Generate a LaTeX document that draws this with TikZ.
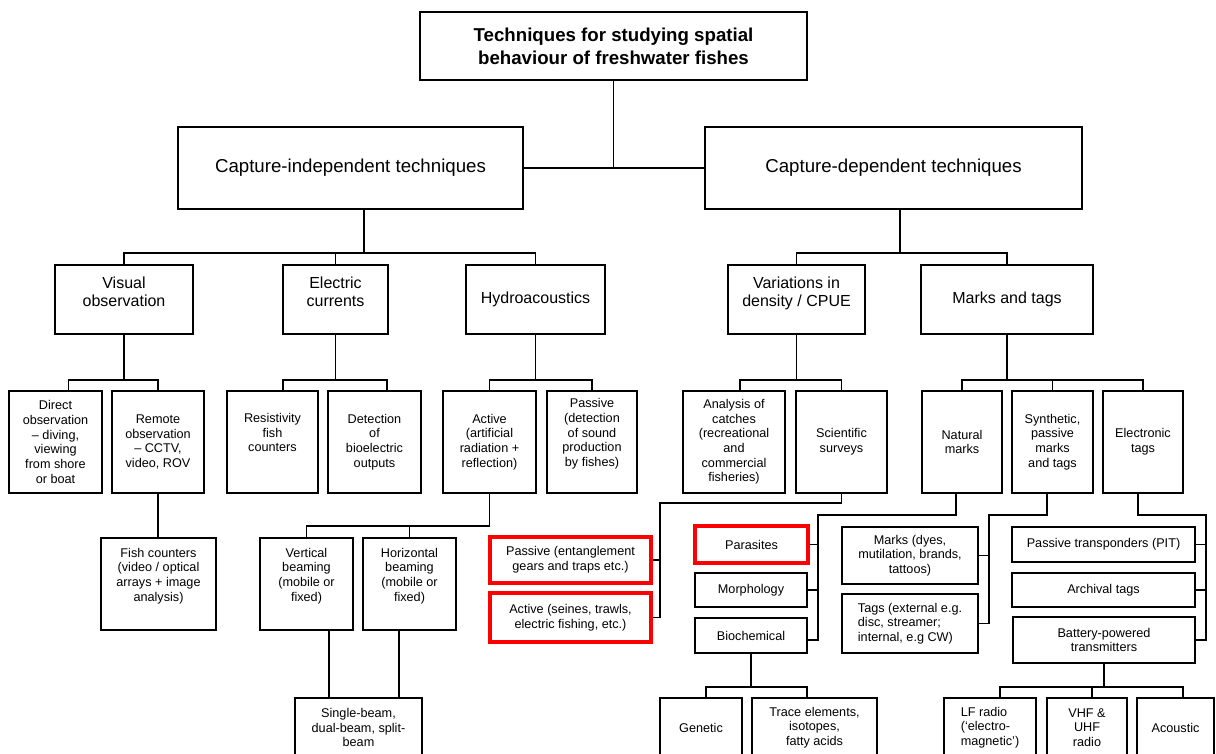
\documentclass[tikz,border=0pt]{standalone}
\usepackage{fontspec}
\setmainfont{Liberation Sans}
\usetikzlibrary{positioning}

\begin{document}
\begin{tikzpicture}[
    % one unit = one pixel of the scan
    x=0.75pt, y=-0.75pt,
    base/.style={rectangle, draw=black, line width=1.3pt, align=center, inner sep=1pt, font=\fontsize{9.5}{11}\selectfont},
    box/.style 2 args={base, minimum width=#1*0.75pt, minimum height=#2*0.75pt},
    topic/.style={font=\fontsize{12}{14}\selectfont},
    branch/.style={font=\fontsize{14}{17}\selectfont},
    headline/.style={font=\fontsize{14}{17}\selectfont\bfseries},
    marked/.style={draw=red, line width=2.6pt},
    link/.style={line width=1.1pt}
]
\useasboundingbox (0,0) rectangle (1216,753);
\clip (0,0) rectangle (1216,753);

%% ── Top levels ───────────────────────────────────────────────
\node (title) [box={387}{68}, headline] at (613.5,46) {Techniques for studying spatial\\ behaviour of freshwater fishes};
\node (capind) [box={345}{82}, branch] at (350.5,168) {Capture-independent techniques};
\node (capdep) [box={377}{82}, branch] at (893.5,168) {Capture-dependent techniques};

\node (visual) [box={138}{69}, topic] at (124,299.5) {Visual\\ observation\\[-2.25pt]};
\node (electric) [box={105}{69}, topic] at (335.5,299.5) {Electric\\ currents\\[-2.25pt]};
\node (hydro) [box={139}{69}, topic] at (535.5,299.5) {Hydroacoustics};
\node (variations) [box={137}{69}, topic] at (796.5,299.5) {Variations in\\ density / CPUE\\[-2.25pt]};
\node (markstags) [box={172}{69}, topic] at (1007,299.5) {Marks and tags};

%% ── Third level ──────────────────────────────────────────────
\node (direct) [box={93}{102}] at (55.5,442) {Direct\\ observation\\ -- diving,\\ viewing\\ from shore\\ or boat};
\node (remote) [box={92}{102}] at (158,442) {Remote\\ observation\\ -- CCTV,\\ video, ROV};
\node (resist) [box={91}{102}] at (272.5,442) {Resistivity\\ fish\\ counters\\[3pt]};
\node (detect) [box={93}{102}] at (374.5,442) {Detection\\ of\\ bioelectric\\ outputs};
\node (activeh) [box={93}{102}] at (489.5,442) {Active\\ (artificial\\ radiation +\\ reflection)};
\node (passiveh) [box={90}{102}] at (592,442) {Passive\\ (detection\\ of sound\\ production\\ by fishes)\\[3pt]};
\node (analysis) [box={102}{102}] at (734,442) {Analysis of\\ catches\\ (recreational\\ and\\ commercial\\ fisheries)};
\node (scient) [box={91}{102}] at (841.5,442) {Scientific\\ surveys};
\node (natural) [box={80}{102}] at (962,442) {Natural\\ marks};
\node (synth) [box={81}{102}] at (1052.5,442) {Synthetic,\\ passive\\ marks\\ and tags};
\node (electronic) [box={80}{102}] at (1143,442) {Electronic\\ tags};

%% ── Fourth level ─────────────────────────────────────────────
\node (fishcnt) [box={115}{92}] at (158.5,584) {Fish counters\\ (video / optical\\ arrays + image\\ analysis)\\[3pt]};
\node (vertb) [box={93}{92}] at (306.5,584) {Vertical\\ beaming\\ (mobile or\\ fixed)\\[3pt]};
\node (horizb) [box={93}{92}] at (409.5,584) {Horizontal\\ beaming\\ (mobile or\\ fixed)\\[3pt]};

\node (passgear) [box={161}{46}, marked] at (570.5,560) {Passive (entanglement\\ gears and traps etc.)};
\node (actgear) [box={161}{49}, marked] at (570.5,617.5) {Active (seines, trawls,\\ electric fishing, etc.)};

\node (parasites) [box={113}{37}, marked] at (751.5,544.5) {Parasites};
\node (morph) [box={112}{34}] at (751,590) {Morphology};
\node (biochem) [box={112}{35}] at (751,635.5) {Biochemical};

\node (marksdyes) [box={136}{57}] at (910,555.5) {Marks (dyes,\\ mutilation, brands,\\ tattoos)};
\node (tagsext) [box={136}{59}, align=left] at (910,623.5) {Tags (external e.g.\\ disc, streamer;\\ internal, e.g CW)};

\node (pit) [box={183}{35}] at (1103.5,544.5) {Passive transponders (PIT)};
\node (archival) [box={183}{34}] at (1103.5,590) {Archival tags};
\node (battery) [box={182}{46}] at (1104,640) {Battery-powered\\ transmitters};

%% ── Bottom row (cut by the page edge) ────────────────────────
\node (singleb) [box={127}{59}] at (358.5,727.5) {Single-beam,\\ dual-beam, split-\\ beam};
\node (genetic) [box={82}{59}] at (701,727.5) {Genetic};
\node (trace) [box={125}{59}] at (814.5,727.5) {Trace elements,\\ isotopes,\\ fatty acids};
\node (lfradio) [box={92}{59}, align=left] at (990,727.5) {LF radio\\ (`electro-\\ magnetic')};
\node (vhf) [box={80}{59}] at (1087,727.5) {VHF \&\\ UHF\\ radio};
\node (acoustic) [box={77}{59}] at (1175.5,727.5) {Acoustic};

%% ── Connectors ───────────────────────────────────────────────
\draw [link] (capind.east) -- (capdep.west);
\draw [link] (title.south) -- (title.south |- capind.east);

\coordinate (busci) at (364,253);
\draw [link] (capind.south -| busci) -- (busci);
\draw [link] (visual.north) |- (busci) -| (hydro.north);
\draw [link] (electric.north) -- (electric.north |- busci);

\coordinate (buscd) at (900,253);
\draw [link] (capdep.south -| buscd) -- (buscd);
\draw [link] (variations.north) |- (buscd) -| (markstags.north);

\coordinate (busvo) at (124,380);
\draw [link] (visual.south) -- (busvo);
\draw [link] ([xshift=9.75pt]direct.north) |- (busvo) -| (remote.north);

\coordinate (busec) at (335.5,380);
\draw [link] (electric.south) -- (busec);
\draw [link] ([xshift=7.9pt]resist.north) |- (busec) -| ([xshift=9.4pt]detect.north);

\coordinate (bushy) at (535.5,380);
\draw [link] (hydro.south) -- (bushy);
\draw [link] (activeh.north) |- (bushy) -| (passiveh.north);

\coordinate (busvd) at (796.5,380);
\draw [link] (variations.south) -- (busvd);
\draw [link] ([xshift=4.5pt]analysis.north) |- (busvd) -| (scient.north);

\coordinate (busmt) at (1007,380);
\draw [link] (markstags.south) -- (busmt);
\draw [link] (natural.north) |- (busmt) -| (electronic.north);
\draw [link] (synth.north) -- (synth.north |- busmt);

\draw [link] (remote.south) -- (remote.south |- fishcnt.north);

\coordinate (busac) at (489.5,526);
\draw [link] (activeh.south) -- (busac);
\draw [link] (vertb.north) |- (busac);
\draw [link] (horizb.north) -- (horizb.north |- busac);
\draw [link] ([xshift=16.9pt]vertb.south) coordinate (vb) -- (vb |- singleb.north);
\draw [link] ([xshift=-7.9pt]horizb.south) coordinate (hb) -- (hb |- singleb.north);

\coordinate (brsc) at (660,503);
\draw [link] (scient.south) |- (brsc) |- (actgear.east);
\draw [link] (passgear.east) -- (passgear.east -| brsc);

\coordinate (brnm) at (818,515);
\draw [link] ([xshift=-4.5pt]natural.south) |- (brnm) |- ([yshift=-3.4pt]biochem.east);
\draw [link] (parasites.east) -- (parasites.east -| brnm);
\draw [link] (morph.east) -- (morph.east -| brnm);

\coordinate (brsy) at (989,515);
\draw [link] ([xshift=-4pt]synth.south) |- (brsy) |- (tagsext.east);
\draw [link] (marksdyes.east) -- (marksdyes.east -| brsy);

\coordinate (brel) at (1206,515);
\draw [link] ([xshift=-3.75pt]electronic.south) |- (brel) |- (battery.east);
\draw [link] (pit.east) -- (pit.east -| brel);
\draw [link] (archival.east) -- (archival.east -| brel);

\coordinate (busbc) at (751,687);
\draw [link] (biochem.south) -- (busbc);
\draw [link] ([xshift=3.75pt]genetic.north) |- (busbc) -| ([xshift=-5.6pt]trace.north);

\coordinate (busbp) at (1104,687);
\draw [link] (battery.south) -- (busbp);
\draw [link] ([xshift=7.5pt]lfradio.north) |- (busbp) -| ([xshift=5.6pt]acoustic.north);
\draw [link] ([xshift=3.75pt]vhf.north) -- ([xshift=3.75pt]vhf.north |- busbp);

\end{tikzpicture}
\end{document}
